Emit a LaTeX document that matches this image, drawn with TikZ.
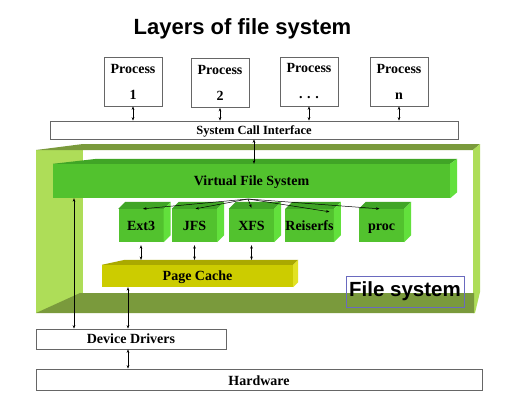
\documentclass[tikz,border=0pt]{standalone}
\usepackage{fontspec}
\setmainfont{Liberation Serif}
\newfontfamily\arialfont{Liberation Sans}
\usetikzlibrary{arrows.meta}
\definecolor{lightg}{HTML}{AEDD58}
\definecolor{olive}{HTML}{7A9A3C}
\definecolor{gfront}{HTML}{52C22E}
\definecolor{gtop}{HTML}{40A526}
\definecolor{gside}{HTML}{62E03C}
\definecolor{yfront}{HTML}{CCCC00}
\definecolor{ytop}{HTML}{AAA900}
\definecolor{yside}{HTML}{E2E224}
\definecolor{fsblue}{HTML}{6A6ABF}
\newcommand\solidfaces[5]{%
  \fill[#4] (#1.north west) -- ++(#2,-#3) -- ([shift={(#2,-#3)}]#1.north east) -- (#1.north east) -- cycle;
  \fill[#5] (#1.north east) -- ++(#2,-#3) -- ([shift={(#2,-#3)}]#1.south east) -- (#1.south east) -- cycle;}
\begin{document}
\begin{tikzpicture}[x=1pt,y=-1pt,
  lbl/.style={font=\bfseries\fontsize{14}{15}\selectfont},
  even/.style={text height=10pt, text depth=1pt},
  wbox/.style={lbl, draw=black!60, line width=0.8pt, fill=white, inner sep=0pt},
  procbox/.style={wbox, minimum width=58pt, minimum height=49pt, align=center},
  gbox/.style={lbl, even, fill=gfront, inner sep=0pt, minimum width=45pt, minimum height=33pt},
  tipk/.tip={Stealth[length=3.5pt,width=2.6pt]},
  dar/.style={tipk-tipk, line width=0.5pt},
  ar/.style={-tipk, line width=0.5pt}]
\useasboundingbox (0,0) rectangle (515,400);
\fill[white] (0,0) rectangle (515,400);

% title
\node[font=\arialfont\bfseries\fontsize{22}{26}\selectfont] (title) at (242.5,29) {Layers of file system};

% processes
\node[procbox] (p1) at (133,81.5) {Process\\[11pt]1};
\node[procbox] (p2) at (220,83) {Process\\[11pt]2};
\node[procbox] (p3) at (309,81.5) {Process\\[11pt]. . .};
\node[procbox] (p4) at (399,81.5) {Process\\[11pt]n};

% system call interface
\node[wbox, even, minimum width=408pt, minimum height=18pt, font=\bfseries\fontsize{12.5}{14}\selectfont] (sci) at (254,130) {System Call Interface};
\foreach \p in {p1,p2,p3,p4} \draw[dar] (\p.south) -- (\p.south |- sci.north);

% file system frame
\fill[lightg] (36,150) rectangle (83,313);
\fill[olive] (36,150) -- (83,144) -- (480,144) -- (473,150) -- cycle;
\fill[lightg] (473,150) -- (480,144) -- (480,292) -- (475,313) -- (473,313) -- cycle;
\fill[olive] (36,313) -- (80,293) -- (474,293) -- (474,313) -- cycle;

% VFS
\node[lbl, even, fill=gfront, inner sep=0pt, minimum width=397pt, minimum height=34pt] (vfs) at (251.5,181) {Virtual File System};
\fill[gtop] (vfs.north west) -- ++(44,-5) -- ([shift={(7,-5)}]vfs.north east) -- (vfs.north east) -- cycle;
\fill[gside] (vfs.north east) -- ++(7,-5) -- ([shift={(7,-6)}]vfs.south east) -- (vfs.south east) -- cycle;
\draw[dar] (sci.south) -- (sci.south |- vfs.north);

% file system boxes
\node[gbox] (ext3) at (141,225.5) {Ext3};
\node[gbox] (jfs) at (194.5,225.5) {JFS};
\node[gbox] (xfs) at (251.5,225.5) {XFS};
\node[gbox] (reiser) at (309.5,225.5) {Reiserfs};
\node[gbox] (proc) at (381.5,225.5) {proc};
\foreach \b in {ext3,jfs,xfs,reiser,proc} {\solidfaces{\b}{7}{7}{gtop}{gside}}

\coordinate (fan) at (248,199);
\draw[ar] (fan) -- ([xshift=2pt]ext3.north);
\draw[ar] (fan) -- ([xshift=1pt]jfs.north);
\draw[ar] (fan) -- ([yshift=1pt]xfs.north);
\draw[ar] (fan) -- ([xshift=20pt,yshift=-3pt]reiser.north);
\draw[ar] (fan) -- ([xshift=-2pt]proc.north);

% page cache
\node[lbl, even, fill=yfront, inner sep=0pt, minimum width=191pt, minimum height=22pt] (pc) at (197.5,276) {Page Cache};
\fill[ytop] (pc.north west) -- ++(23,-5) -- ([shift={(5,-5)}]pc.north east) -- (pc.north east) -- cycle;
\fill[yside] (pc.north east) -- ++(5,-5) -- ([shift={(5,-5)}]pc.south east) -- (pc.south east) -- cycle;
\coordinate (pctop) at (0,260);
\foreach \b in {ext3,jfs,xfs} \draw[dar] ([yshift=-3pt]\b.south) -- (\b.south |- pctop);

% file system label
\node[draw=fsblue, line width=0.6pt, minimum width=118pt, minimum height=31pt, inner sep=0pt,
  font=\arialfont\bfseries\fontsize{20.5}{24}\selectfont] (fslabel) at (405,291.5) {File system};

% device drivers and hardware
\node[wbox, even, minimum width=190pt, minimum height=20pt] (dd) at (131,339) {Device Drivers};
\node[wbox, text height=11pt, text depth=0pt, minimum width=446pt, minimum height=21pt] (hw) at (259,379.5) {Hardware};
\coordinate (lx) at (74,0);
\coordinate (mx) at (128,0);
\draw[dar] (lx |- vfs.south) -- (lx |- dd.north);
\draw[dar] (mx |- pc.south) -- (mx |- dd.north);
\draw[dar] (mx |- dd.south) -- (mx |- hw.north);
\end{tikzpicture}
\end{document}
